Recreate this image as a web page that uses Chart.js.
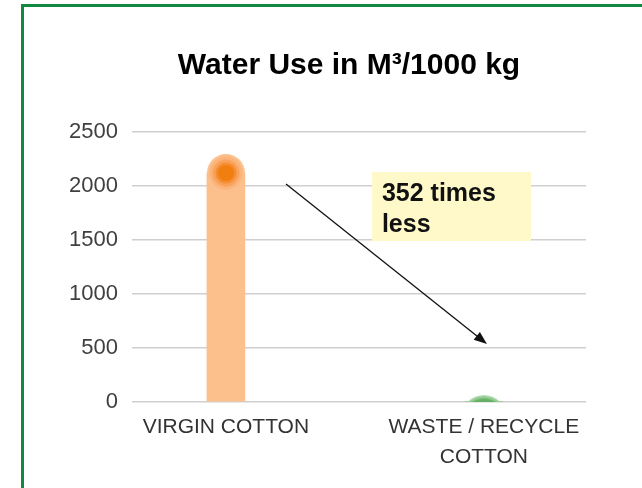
<!DOCTYPE html>
<html><head><meta charset="utf-8">
<script src="https://cdn.jsdelivr.net/npm/chart.js@4.4.1/dist/chart.umd.min.js"></script>
<style>
html,body{margin:0;padding:0;background:#fff;}
#wrap{position:relative;width:642px;height:488px;overflow:hidden;background:#fff;}
#frame{position:absolute;left:21px;top:4px;width:700px;height:600px;border-left:3px solid #12893e;border-top:3px solid #12893e;pointer-events:none;}
canvas{position:absolute;left:0;top:0;}
</style></head><body>
<div id="wrap"><canvas id="c" width="642" height="488"></canvas><div id="frame"></div></div>
<script>
const categories = ['VIRGIN COTTON', ['WASTE / RECYCLE', 'COTTON']];
const waterUse = [2120, 6];
const yTicks = [0, 500, 1000, 1500, 2000, 2500];
const titleText = 'Water Use in M\u00B3/1000 kg';
const noteLines = ['352 times', 'less'];

const FONT = "'Liberation Sans', Arial, Helvetica, sans-serif";
const note = { box: { x0: 0.566, x1: 1.183, y0: 2130, y1: 1491 }, arrow: { x0: 0.233, y0: 2019, x1: 1.012, y1: 537 } };

function orangeMarker() {
  const c = document.createElement('canvas'); c.width = 38; c.height = 38;
  const g = c.getContext('2d');
  [[19, '#fcc08d'], [16.5, '#fbb47a'], [13.5, '#f9a25c'], [10.5, '#f58d33'], [8, '#f07f0f']].forEach(([r, col]) => {
    g.beginPath(); g.arc(19, 19, r, 0, Math.PI * 2); g.fillStyle = col; g.fill();
  });
  return c;
}
function greenMarker() {
  const c = document.createElement('canvas'); c.width = 48; c.height = 80;
  const g = c.getContext('2d');
  [[23, '#95ce95'], [20, '#66b066']].forEach(([r, col]) => {
    g.beginPath(); g.arc(24, 57, r, 0, Math.PI * 2); g.fillStyle = col; g.fill();
  });
  return c;
}

const points = categories.map((c, i) => ({ x: i, y: waterUse[i] }));

const notePlugin = {
  id: 'note',
  afterLayout(chart) {
    const t = chart.titleBlock;
    if (t) { t.left = 112; t.right = 586; t.width = 474; }
  },
  afterDatasetsDraw(chart) {
    const { ctx, scales: { x, y } } = chart;
    ctx.save();
    const ax0 = x.getPixelForValue(note.arrow.x0), ay0 = y.getPixelForValue(note.arrow.y0);
    const ax1 = x.getPixelForValue(note.arrow.x1), ay1 = y.getPixelForValue(note.arrow.y1);
    const ang = Math.atan2(ay1 - ay0, ax1 - ax0);
    const hl = 13, hw = 5;
    ctx.strokeStyle = '#111'; ctx.fillStyle = '#111'; ctx.lineWidth = 1.3;
    ctx.beginPath(); ctx.moveTo(ax0, ay0);
    ctx.lineTo(ax1 - Math.cos(ang) * hl * 0.8, ay1 - Math.sin(ang) * hl * 0.8); ctx.stroke();
    ctx.beginPath(); ctx.moveTo(ax1, ay1);
    ctx.lineTo(ax1 - Math.cos(ang) * hl - Math.sin(ang) * hw, ay1 - Math.sin(ang) * hl + Math.cos(ang) * hw);
    ctx.lineTo(ax1 - Math.cos(ang) * hl + Math.sin(ang) * hw, ay1 - Math.sin(ang) * hl - Math.cos(ang) * hw);
    ctx.closePath(); ctx.fill();
    const bx0 = x.getPixelForValue(note.box.x0), bx1 = x.getPixelForValue(note.box.x1);
    const by0 = y.getPixelForValue(note.box.y0), by1 = y.getPixelForValue(note.box.y1);
    ctx.fillStyle = '#fff8c8';
    ctx.fillRect(bx0, by0, bx1 - bx0, by1 - by0);
    ctx.fillStyle = '#111';
    ctx.font = 'bold 25px ' + FONT;
    ctx.textBaseline = 'alphabetic'; ctx.textAlign = 'left';
    noteLines.forEach((t, i) => ctx.fillText(t, bx0 + 10, by0 + 29 + i * 31));
    ctx.restore();
  }
};

new Chart(document.getElementById('c'), {
  data: {
    datasets: [
      {
        type: 'line', data: points, showLine: false, order: 0, clip: 0,
        pointStyle: [orangeMarker(), greenMarker()], pointRadius: 19
      },
      {
        type: 'bar', data: points, order: 1, barThickness: 38,
        backgroundColor: ['#fcc08d', '#95ce95'], borderWidth: 0
      }
    ]
  },
  options: {
    responsive: false, animation: false, devicePixelRatio: 1,
    layout: { padding: { left: 0, right: 56, top: 0, bottom: 0 } },
    plugins: {
      legend: { display: false }, tooltip: { enabled: false },
      title: {
        display: true, text: titleText, color: '#000',
        font: { family: FONT, size: 30, weight: 'bold' },
        padding: { top: 48, bottom: 48 }
      }
    },
    scales: {
      x: {
        type: 'linear', min: -0.364, max: 1.396, offset: false,
        grid: { display: false, offset: false }, border: { display: false },
        afterBuildTicks: s => { s.ticks = categories.map((c, i) => ({ value: i })); },
        afterFit: s => { s.height = 86; },
        ticks: {
          callback: v => categories[v], color: '#333', padding: 3,
          font: { family: FONT, size: 21, lineHeight: 1.4 }, maxRotation: 0, autoSkip: false
        }
      },
      y: {
        min: 0, max: 2500,
        afterBuildTicks: s => { s.ticks = yTicks.map(v => ({ value: v })); },
        afterFit: s => { s.width = 132; },
        grid: { color: '#cfcfcf', lineWidth: 1.5, drawTicks: false }, border: { display: false },
        ticks: { callback: v => String(v), color: '#404040', padding: 14, font: { family: FONT, size: 22 } }
      }
    }
  },
  plugins: [notePlugin]
});
</script>
</body></html>
